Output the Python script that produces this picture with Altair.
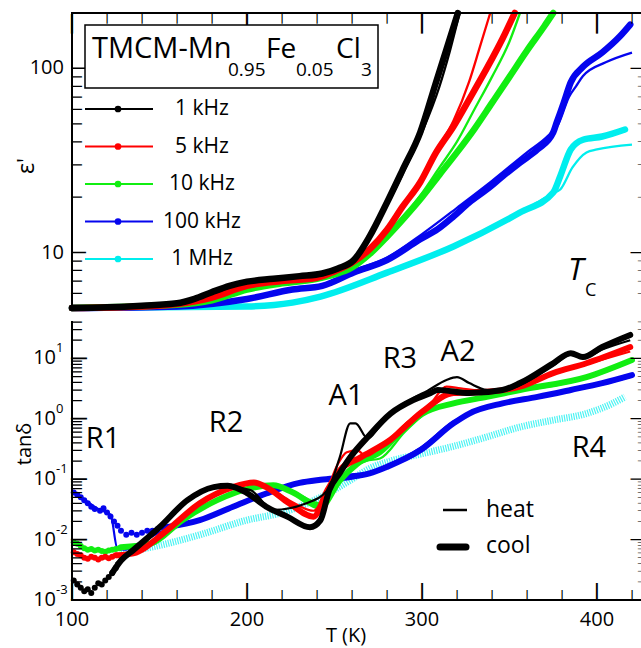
import altair as alt
import pandas as pd

FONT = "Open Sans"
TICK_FONT = "DejaVu Sans"

FREQS = ["1 kHz", "5 kHz", "10 kHz", "100 kHz", "1 MHz"]
COLORS = ["#000000", "#ff0000", "#11ee11", "#0505ee", "#00eeee"]

# ---------------- top panel: eps' (cool = thick, heat = thin) ----------------
EPS_T_1K_C = [100, 120, 140, 160, 170, 180, 190, 200, 215, 230, 243, 252, 261, 270, 280, 289, 299, 308, 314, 320.5]
EPS_1K_C = [5.0, 5.05, 5.15, 5.3, 5.6, 6.1, 6.6, 6.95, 7.2, 7.45, 7.7, 8.2, 9.1, 12.2, 18.7, 28.2, 45, 84, 127, 200]
EPS_T_1K_H = [100, 140, 160, 180, 200, 220, 243, 260, 270, 280, 290, 300, 310, 316, 321.5]
EPS_1K_H = [5.0, 5.15, 5.3, 6.0, 6.9, 7.3, 7.7, 9.0, 12.0, 18.0, 28.0, 45, 80, 125, 200]

EPS_T_5K_C = [100, 140, 160, 180, 200, 220, 240, 250, 260, 270, 280, 289, 299, 308, 318, 327, 337, 346, 353]
EPS_5K_C = [5.0, 5.1, 5.25, 5.7, 6.6, 7.0, 7.3, 7.9, 8.8, 10.4, 13.3, 17.8, 24.1, 34.9, 48.4, 68, 100, 145, 200]
EPS_T_5K_H = [100, 140, 160, 180, 200, 220, 240, 250, 260, 270, 280, 289, 299, 308, 318, 327, 333, 339]
EPS_5K_H = [5.0, 5.1, 5.25, 5.7, 6.5, 6.95, 7.3, 7.9, 8.9, 10.6, 13.6, 18.2, 24.5, 35.5, 52, 85, 130, 200]

EPS_T_10K_C = [100, 160, 180, 200, 220, 240, 250, 260, 270, 280, 290, 300, 310, 320, 330, 340, 350, 360, 370, 375]
EPS_10K_C = [5.0, 5.2, 5.5, 6.3, 6.8, 7.2, 7.6, 8.3, 9.8, 12.2, 15.5, 20, 26.5, 35, 47, 65, 90, 125, 170, 200]
EPS_T_10K_H = [100, 160, 180, 200, 220, 240, 260, 280, 300, 310, 320, 330, 340, 350, 356]
EPS_10K_H = [5.0, 5.2, 5.5, 6.3, 6.8, 7.2, 8.4, 12.5, 21, 29, 40, 60, 90, 140, 200]

EPS_T_100K_C = [100, 160, 200, 226, 243, 261, 280, 299, 309, 318, 327, 337, 346, 356, 366, 375, 377, 381, 385, 392, 403, 413, 419]
EPS_100K_C = [5.0, 5.1, 5.6, 6.3, 6.6, 7.8, 9.1, 11.8, 13.4, 15.7, 18.7, 22, 25.9, 30.8, 36.3, 44.9, 50.9, 65, 84, 102, 122, 149, 173]
EPS_T_100K_H = [100, 160, 200, 226, 243, 261, 280, 300, 320, 340, 360, 372, 378, 384, 388, 392, 405, 420]
EPS_100K_H = [5.0, 5.1, 5.6, 6.3, 6.7, 8.0, 9.4, 12.6, 17.5, 24.5, 35, 43, 50, 70, 80, 91, 108, 122]

EPS_T_1M_C = [100, 200, 226, 242, 280, 318, 356, 375, 379, 385, 392, 403, 416]
EPS_1M_C = [5.0, 5.1, 5.35, 5.77, 7.78, 10.8, 16.5, 21.2, 26, 36.3, 41, 42.7, 46.6]
EPS_T_1M_H = [100, 200, 242, 280, 318, 356, 375, 379, 386, 394, 400, 420]
EPS_1M_H = [5.0, 5.1, 5.8, 7.8, 10.8, 16.5, 21, 22, 29, 35, 36.3, 38.6]

# ---------------- bottom panel: tan delta ----------------
TAN_T_1K_C = [123, 128, 135, 150, 166, 181, 189, 200, 211, 223, 236, 242, 247, 253, 259, 269, 282, 295, 305, 309, 327, 346, 356, 375, 385, 392, 403, 419]
TAN_1K_C = [0.0028, 0.0045, 0.0067, 0.016, 0.045, 0.074, 0.078, 0.059, 0.035, 0.024, 0.016, 0.021, 0.066, 0.126, 0.23, 0.50, 1.22, 2.05, 2.67, 3.0, 2.67, 3.0, 3.9, 8.3, 12.2, 10.5, 15.4, 24.4]
TAN_T_1K_H = [125, 135, 150, 165, 180, 190, 202, 215, 234, 246, 253, 259, 262, 269, 275, 282, 295, 303, 314, 320, 327, 337, 346, 356, 375, 385, 392, 403, 419]
TAN_1K_H = [0.004, 0.0067, 0.016, 0.044, 0.072, 0.075, 0.066, 0.031, 0.040, 0.066, 0.23, 0.84, 0.84, 0.47, 0.7, 1.22, 2.2, 2.9, 4.4, 4.9, 3.9, 3.0, 2.9, 3.6, 7.5, 11.5, 10.0, 14, 20]

TAN_T_5K_C = [126, 135, 154, 173, 192, 204, 211, 224, 238, 246, 253, 265, 282, 300, 318, 337, 356, 375, 394, 419]
TAN_5K_C = [0.0055, 0.0059, 0.014, 0.040, 0.074, 0.088, 0.074, 0.040, 0.024, 0.066, 0.14, 0.23, 0.45, 1.3, 2.67, 2.8, 3.4, 5.7, 8.3, 15.4]
TAN_T_5K_H = [126, 135, 154, 173, 192, 204, 211, 224, 238, 245, 252, 257, 263, 268, 276, 290, 305, 314, 322, 337, 356, 375, 394, 419]
TAN_5K_H = [0.0055, 0.006, 0.014, 0.040, 0.074, 0.085, 0.075, 0.045, 0.03, 0.06, 0.18, 0.28, 0.30, 0.24, 0.33, 0.8, 1.8, 3.4, 3.2, 2.9, 3.5, 5.5, 8.0, 13]

TAN_T_10K_C = [128, 145, 163, 183, 202, 215, 226, 242, 253, 263, 276, 290, 300, 318, 337, 356, 394, 420]
TAN_10K_C = [0.0075, 0.0086, 0.021, 0.045, 0.071, 0.079, 0.061, 0.035, 0.095, 0.18, 0.28, 0.7, 1.2, 1.8, 2.3, 3.0, 4.9, 9.4]
TAN_T_10K_H = [128, 145, 163, 183, 202, 215, 226, 242, 253, 260, 268, 276, 290, 305, 318, 330, 356, 394, 420]
TAN_10K_H = [0.0075, 0.0086, 0.021, 0.045, 0.07, 0.078, 0.063, 0.04, 0.09, 0.15, 0.2, 0.22, 0.6, 1.5, 3.0, 2.8, 3.0, 4.7, 9.0]

TAN_T_100K_C = [154, 173, 192, 211, 230, 242, 260, 270, 280, 299, 318, 327, 346, 366, 385, 403, 420]
TAN_100K_C = [0.016, 0.021, 0.035, 0.058, 0.087, 0.098, 0.11, 0.125, 0.16, 0.3, 0.84, 1.22, 1.8, 2.3, 3.0, 3.9, 5.3]
TAN_T_100K_H = [100, 105, 110, 116, 122, 126, 130, 136, 145, 154, 173, 192, 211, 230, 242, 260, 270, 280, 299, 318, 327, 346, 366, 385, 403, 420]
TAN_100K_H = [0.06, 0.05, 0.04, 0.031, 0.026, 0.007, 0.0068, 0.008, 0.011, 0.015, 0.021, 0.035, 0.058, 0.087, 0.1, 0.12, 0.13, 0.17, 0.33, 0.9, 1.25, 1.8, 2.3, 2.9, 3.7, 5.0]

TAN_T_1M = [128, 150, 173, 200, 220, 242, 260, 270, 282, 299, 318, 337, 356, 375, 394, 409, 416]
TAN_1M = [0.006, 0.008, 0.012, 0.021, 0.028, 0.05, 0.1, 0.15, 0.2, 0.26, 0.35, 0.5, 0.73, 0.95, 1.22, 1.8, 2.3]

# low-temperature scattered points (cooling runs)
PT_T_1K = [101, 103, 105, 107, 109, 111, 113, 115, 117, 119, 121, 123, 125]
PT_1K = [0.0021, 0.0018, 0.0016, 0.0014, 0.0015, 0.0013, 0.0016, 0.0019, 0.0018, 0.0021, 0.0024, 0.0028, 0.0034]
PT_T_5K = [101, 103, 105, 107, 109, 111, 113, 115, 117, 119, 121, 123, 125]
PT_5K = [0.0062, 0.0058, 0.0055, 0.005, 0.0048, 0.0052, 0.005, 0.0047, 0.005, 0.0052, 0.0049, 0.0052, 0.0055]
PT_T_10K = [101, 103, 105, 107, 109, 111, 113, 115, 117, 119, 121, 123, 125, 127]
PT_10K = [0.009, 0.0085, 0.0078, 0.0072, 0.0068, 0.007, 0.0066, 0.0068, 0.0065, 0.0063, 0.0066, 0.0068, 0.007, 0.0072]
PT_T_100K = [101, 103, 105, 107, 109, 111, 113, 116, 118, 120, 122, 124, 126, 128, 131, 134, 137, 140, 143, 146, 149, 152]
PT_100K = [0.06, 0.055, 0.05, 0.045, 0.04, 0.035, 0.032, 0.03, 0.033, 0.028, 0.024, 0.02, 0.017, 0.014, 0.012, 0.013, 0.012, 0.013, 0.014, 0.014, 0.015, 0.016]

# axes
X_MAJOR = [100, 200, 300, 400]
X_MINOR = [120, 140, 160, 180, 220, 240, 260, 280, 320, 340, 360, 380, 420]
X_LABELS = ["100", "200", "300", "400"]
EPS_MAJOR = [10, 100]
EPS_MINOR = [6, 7, 8, 9, 20, 30, 40, 50, 60, 70, 80, 90]
EPS_LABELS = ["10", "100"]
TAN_MAJOR = [0.001, 0.01, 0.1, 1, 10]
TAN_MINOR = [m * d for d in [0.001, 0.01, 0.1, 1] for m in range(2, 10)] + [20, 30, 40]
TAN_EXP = ["-3", "-2", "-1", "0", "1"]

# annotations (data coordinates)
ANN_BOT_TEXT = ["R1", "R2", "A1", "R3", "A2", "R4"]
ANN_BOT_T = [117.7, 188, 256.6, 287.4, 320.6, 395.4]
ANN_BOT_V = [0.33, 0.60, 1.69, 6.9, 9.0, 0.23]

X_SCALE = alt.Scale(domain=[100, 426.3], range=[72, 643], nice=False, zero=False)
TOP_SCALE = alt.Scale(type="log", domain=[5, 200], range=[308, 13], nice=False)
BOT_SCALE = alt.Scale(type="log", domain=[0.001, 40], range=[600, 322], nice=False)
LEG_SCALE = alt.Scale(type="point", domain=FREQS, range=[109, 259], padding=0)
COLOR_SCALE = alt.Scale(domain=FREQS, range=COLORS)


def X():
    return alt.X("T:Q", scale=X_SCALE, axis=None)


def YT():
    return alt.Y("v:Q", scale=TOP_SCALE, axis=None)


def YB():
    return alt.Y("v:Q", scale=BOT_SCALE, axis=None)


def COL():
    return alt.Color("freq:N", scale=COLOR_SCALE, legend=None)


def df(T, V, freq):
    return pd.DataFrame({"T": T, "v": V, "freq": freq})


ONE = pd.DataFrame({"k": [0]})
layers = []

# ---------- data curves ----------
top_series = [
    ("1 MHz", EPS_T_1M_C, EPS_1M_C, EPS_T_1M_H, EPS_1M_H),
    ("100 kHz", EPS_T_100K_C, EPS_100K_C, EPS_T_100K_H, EPS_100K_H),
    ("10 kHz", EPS_T_10K_C, EPS_10K_C, EPS_T_10K_H, EPS_10K_H),
    ("5 kHz", EPS_T_5K_C, EPS_5K_C, EPS_T_5K_H, EPS_5K_H),
    ("1 kHz", EPS_T_1K_C, EPS_1K_C, EPS_T_1K_H, EPS_1K_H),
]
for f, tc, vc, th, vh in top_series:
    layers.append(alt.Chart(df(tc, vc, f)).mark_line(strokeWidth=6.5, interpolate="monotone", strokeCap="round")
                  .encode(x=X(), y=YT(), color=COL()))
    layers.append(alt.Chart(df(th, vh, f)).mark_line(strokeWidth=2.3, interpolate="monotone")
                  .encode(x=X(), y=YT(), color=COL()))

# cyan band (bottom)
layers.append(alt.Chart(df(TAN_T_1M, TAN_1M, "1 MHz")).mark_line(strokeWidth=7, interpolate="monotone",
                                                                 strokeDash=[1.2, 1.2], opacity=0.7)
              .encode(x=X(), y=YB(), color=COL()))
bot_series = [
    ("100 kHz", TAN_T_100K_C, TAN_100K_C, TAN_T_100K_H, TAN_100K_H, PT_T_100K, PT_100K),
    ("10 kHz", TAN_T_10K_C, TAN_10K_C, TAN_T_10K_H, TAN_10K_H, PT_T_10K, PT_10K),
    ("5 kHz", TAN_T_5K_C, TAN_5K_C, TAN_T_5K_H, TAN_5K_H, PT_T_5K, PT_5K),
    ("1 kHz", TAN_T_1K_C, TAN_1K_C, TAN_T_1K_H, TAN_1K_H, PT_T_1K, PT_1K),
]
for f, tc, vc, th, vh, tp, vp in bot_series:
    layers.append(alt.Chart(df(tp, vp, f)).mark_circle(size=36, opacity=1)
                  .encode(x=X(), y=YB(), color=COL()))
    layers.append(alt.Chart(df(tc, vc, f)).mark_line(strokeWidth=6, interpolate="monotone", strokeCap="round")
                  .encode(x=X(), y=YB(), color=COL()))
    layers.append(alt.Chart(df(th, vh, f)).mark_line(strokeWidth=2.2, interpolate="monotone")
                  .encode(x=X(), y=YB(), color=COL()))

# ---------- frames ----------
frame = dict(color="black", strokeWidth=2)
layers += [
    alt.Chart(ONE).mark_rule(**frame).encode(x=alt.value(72), y=alt.value(12), y2=alt.value(308)),
    alt.Chart(ONE).mark_rule(**frame).encode(x=alt.value(71), x2=alt.value(641), y=alt.value(13)),
    alt.Chart(ONE).mark_rule(**frame).encode(x=alt.value(72), y=alt.value(321), y2=alt.value(601)),
    alt.Chart(ONE).mark_rule(**frame).encode(x=alt.value(71), x2=alt.value(641), y=alt.value(600)),
]


# ---------- inward ticks: a bar glyph per tick value, placed through the panel scales ----------
def xtick_glyphs(values, yc, length):
    d = pd.DataFrame({"T": values, "g": "|"})
    return alt.Chart(d).mark_text(font=TICK_FONT, fontWeight="bold", fontSize=length, align="center",
                                  baseline="middle", color="black") \
        .encode(x=X(), y=alt.value(yc), text="g:N")


def ytick_glyphs(values, yenc, xc, length):
    d = pd.DataFrame({"v": values, "g": "|"})
    return alt.Chart(d).mark_text(font=TICK_FONT, fontWeight="bold", fontSize=length, angle=90, align="center",
                                  baseline="middle", color="black") \
        .encode(y=yenc, x=alt.value(xc), text="g:N")


layers += [
    xtick_glyphs(X_MAJOR, 13 + 9.5, 19),
    xtick_glyphs(X_MINOR, 13 + 5, 10),
    xtick_glyphs(X_MAJOR, 600 - 8.5, 17),
    xtick_glyphs(X_MINOR, 600 - 5, 10),
    ytick_glyphs(EPS_MAJOR, YT(), 72 + 7, 14),
    ytick_glyphs(EPS_MINOR, YT(), 72 + 5, 10),
    ytick_glyphs(EPS_MAJOR, YT(), 643 - 6, 12),
    ytick_glyphs(EPS_MINOR, YT(), 643 - 2, 5),
    ytick_glyphs(TAN_MAJOR, YB(), 72 + 8, 16),
    ytick_glyphs(TAN_MINOR, YB(), 72 + 5, 10),
    ytick_glyphs(TAN_MAJOR, YB(), 643 - 6, 12),
    ytick_glyphs(TAN_MINOR, YB(), 643 - 2, 5),
]

# ---------- tick labels ----------
xmaj = pd.DataFrame({"T": X_MAJOR, "lab": X_LABELS})
emaj = pd.DataFrame({"v": EPS_MAJOR, "lab": EPS_LABELS})
tmaj = pd.DataFrame({"v": TAN_MAJOR, "base": ["10"] * 5, "exp": TAN_EXP})
layers += [
    alt.Chart(xmaj).mark_text(font=FONT, fontSize=20, align="center", baseline="alphabetic", color="black")
    .encode(x=X(), y=alt.value(626), text="lab:N"),
    alt.Chart(emaj).mark_text(font=FONT, fontSize=20, align="right", baseline="middle", color="black")
    .encode(y=YT(), x=alt.value(64), text="lab:N"),
    alt.Chart(tmaj).mark_text(font=FONT, fontSize=20, align="right", baseline="middle", color="black")
    .encode(y=YB(), x=alt.value(56), text="base:N"),
    alt.Chart(tmaj).mark_text(font=FONT, fontSize=13, align="left", baseline="middle", dy=-10, color="black")
    .encode(y=YB(), x=alt.value(56), text="exp:N"),
]

# axis titles
layers += [
    alt.Chart(ONE).mark_text(text="ε'", font=FONT, fontSize=23, angle=270, color="black")
    .encode(x=alt.value(27), y=alt.value(166)),
    alt.Chart(ONE).mark_text(text="tanδ", font=FONT, fontSize=20, angle=270, color="black")
    .encode(x=alt.value(25), y=alt.value(444)),
    alt.Chart(ONE).mark_text(text="T (K)", font=FONT, fontSize=20, baseline="alphabetic", color="black")
    .encode(x=alt.value(346), y=alt.value(642)),
]

# ---------- annotations ----------
ann = pd.DataFrame({"T": ANN_BOT_T, "v": ANN_BOT_V, "lab": ANN_BOT_TEXT})
layers.append(alt.Chart(ann).mark_text(font=FONT, fontSize=29, align="center", baseline="alphabetic", color="black")
              .encode(x=X(), y=YB(), text="lab:N"))
tc_df = pd.DataFrame({"T": [383.4], "v": [7.1]})
tc_sub = pd.DataFrame({"T": [393.1], "v": [5.8]})
layers.append(alt.Chart(tc_df).mark_text(text="T", font=FONT, fontSize=31, fontStyle="italic", align="left",
                                         baseline="alphabetic", color="black").encode(x=X(), y=YT()))
layers.append(alt.Chart(tc_sub).mark_text(text="C", font=FONT, fontSize=18, align="left",
                                          baseline="alphabetic", color="black").encode(x=X(), y=YT()))

# ---------- legend box / compound name ----------
layers.append(alt.Chart(ONE).mark_rect(fill="white", stroke="black", strokeWidth=1.5)
              .encode(x=alt.value(85), x2=alt.value(378), y=alt.value(25), y2=alt.value(88)))
name_parts = [("TMCM-Mn", 92, 58, 29), ("0.95", 228, 76, 19), ("Fe", 266, 58, 28),
              ("0.05", 296, 76, 19), ("Cl", 336, 58, 28), ("3", 361, 76, 19)]
for txt, px, py, fs in name_parts:
    layers.append(alt.Chart(ONE).mark_text(text=txt, font=FONT, fontSize=fs, align="left",
                                           baseline="alphabetic", color="black")
                  .encode(x=alt.value(px), y=alt.value(py)))

leg = pd.DataFrame({"freq": FREQS})
YL = alt.Y("freq:N", scale=LEG_SCALE, axis=None)
layers += [
    alt.Chart(leg).mark_rule(strokeWidth=1.8).encode(y=YL, x=alt.value(85), x2=alt.value(153), color=COL()),
    alt.Chart(leg).mark_circle(size=45, opacity=1).encode(y=YL, x=alt.value(118), color=COL()),
    alt.Chart(leg).mark_text(font=FONT, fontSize=21, align="center", baseline="middle", color="black")
    .encode(y=YL, x=alt.value(202), text="freq:N"),
]

# heat / cool legend
layers += [
    alt.Chart(ONE).mark_rule(strokeWidth=2.5, color="black").encode(x=alt.value(443), x2=alt.value(467), y=alt.value(510)),
    alt.Chart(ONE).mark_rule(strokeWidth=7, color="black", strokeCap="round")
    .encode(x=alt.value(440), x2=alt.value(466), y=alt.value(547)),
    alt.Chart(ONE).mark_text(text="heat", font=FONT, fontSize=23, align="left", baseline="alphabetic", color="black")
    .encode(x=alt.value(486), y=alt.value(517)),
    alt.Chart(ONE).mark_text(text="cool", font=FONT, fontSize=23, align="left", baseline="alphabetic", color="black")
    .encode(x=alt.value(486), y=alt.value(553)),
]

chart = (
    alt.layer(*layers)
    .resolve_scale(x="independent", y="independent")
    .properties(width=641, height=648, autosize=alt.AutoSizeParams(type="none"), padding=0, background="white")
    .configure_view(stroke=None)
)
chart.save("out.html", embed_options={"renderer": "svg", "actions": False})
